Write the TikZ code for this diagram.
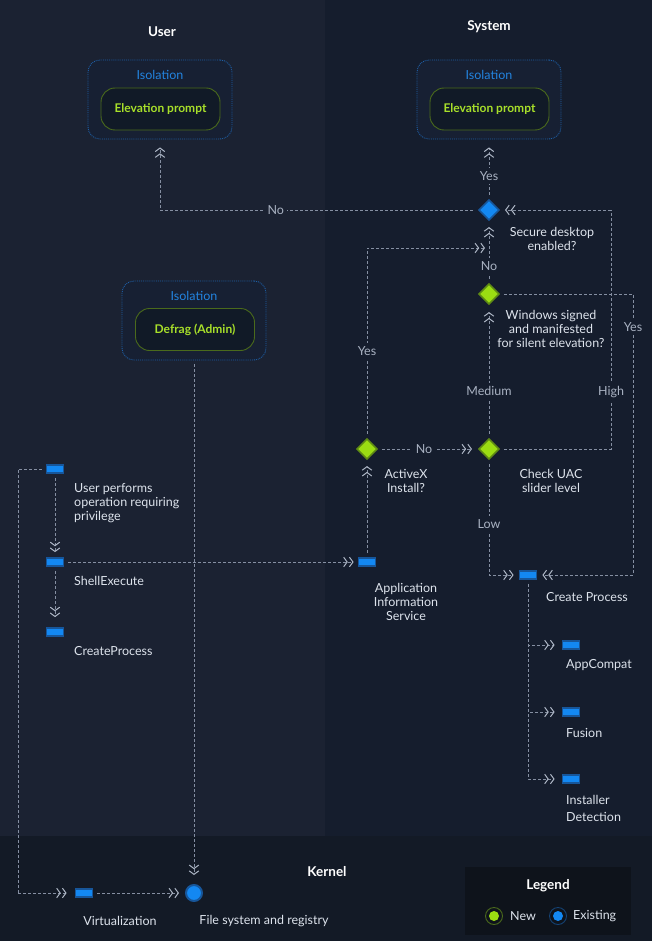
\documentclass[tikz,border=0pt]{standalone}
\usepackage{fontspec}
\setmainfont{Lato}
\usetikzlibrary{arrows.meta,shapes.geometric}

\definecolor{userbg}{HTML}{1B2232}
\definecolor{sysbg}{HTML}{151D2D}
\definecolor{kernbg}{HTML}{131A26}
\definecolor{legbg}{HTML}{0E131B}
\definecolor{isoline}{HTML}{1E5FA6}
\definecolor{isofill}{HTML}{172033}
\definecolor{isotxt}{HTML}{2384E0}
\definecolor{grnline}{HTML}{4A6A1C}
\definecolor{innerfill}{HTML}{111A27}
\definecolor{grntxt}{HTML}{A8E02A}
\definecolor{grnfill}{HTML}{9BDD12}
\definecolor{grnedge}{HTML}{5E8A14}
\definecolor{bluefill}{HTML}{1388F2}
\definecolor{blueedge}{HTML}{17569A}
\definecolor{linec}{HTML}{858FA2}
\definecolor{arrowc}{HTML}{AEB7C6}
\definecolor{lbltxt}{HTML}{A9B2C2}
\definecolor{desctxt}{HTML}{DDE3EC}

\begin{document}
\begin{tikzpicture}[x=1pt,y=-1pt,
  titletxt/.style={text=white, font=\bfseries\fontsize{13.5}{15}\selectfont, inner sep=0pt},
  isobox/.style={draw=isoline, densely dotted, line width=0.9pt, fill=isofill,
    rounded corners=12pt, minimum width=144pt, minimum height=79pt, inner sep=0pt},
  isolbl/.style={text=isotxt, font=\fontsize{12.5}{14}\selectfont, inner sep=0pt},
  innerbox/.style={draw=grnline, line width=0.9pt, fill=innerfill, rounded corners=14pt,
    minimum width=119pt, minimum height=42pt, text=grntxt, inner sep=0pt,
    font=\bfseries\fontsize{12}{14}\selectfont},
  gdia/.style={diamond, fill=grnfill, draw=grnedge, line width=1.6pt,
    minimum width=20.5pt, minimum height=20.5pt, inner sep=0pt},
  bdia/.style={gdia, fill=bluefill, draw=blueedge},
  blk/.style={rectangle, fill=bluefill, draw=blueedge, line width=1.8pt,
    minimum width=17pt, minimum height=8pt, inner sep=0pt},
  desc/.style={text=desctxt, font=\fontsize{12.5}{14}\selectfont, inner sep=0pt},
  lbl/.style={text=lbltxt, font=\fontsize{12.5}{14}\selectfont, fill=sysbg, inner sep=3.5pt},
  conn/.style={draw=linec, line width=0.8pt, dash pattern=on 3pt off 2pt},
  arr/.style={conn, -{Straight Barb[length=3.5pt,width=9.5pt,line width=1pt,color=arrowc,sep=1.2pt]Straight Barb[length=3.5pt,width=9.5pt,line width=1pt,color=arrowc]}},
]

% panels
\fill[userbg] (0,0) rectangle (325,836);
\fill[sysbg] (325,0) rectangle (652,836);
\fill[kernbg] (0,836) rectangle (652,941);
\useasboundingbox (0,0) rectangle (652,941);

% panel titles
\node[titletxt] (tuser) at (162,32) {User};
\node[titletxt] (tsys) at (489,27) {System};
\node[titletxt] (tkern) at (327,872) {Kernel};

% isolation containers
\node[isobox] (iso1) at (160,99.5) {};
\node[isolbl] (iso1t) at (160,75) {Isolation};
\node[innerbox] (ep1) at (160.5,109) {Elevation prompt};

\node[isobox] (iso2) at (489,99.5) {};
\node[isolbl] (iso2t) at (489,75) {Isolation};
\node[innerbox] (ep2) at (489.5,109) {Elevation prompt};

\node[isobox] (iso3) at (194,320.5) {};
\node[isolbl] (iso3t) at (194,296) {Isolation};
\node[innerbox] (dfg) at (195,329.5) {Defrag (Admin)};

% decisions
\node[bdia] (sd) at (489,210) {};
\node[gdia] (ws) at (489,294) {};
\node[gdia] (ax) at (367,449) {};
\node[gdia] (uac) at (489,449) {};

\node[desc, align=center] (sdt) at (552,239) {Secure desktop\\enabled?};
\node[desc, align=center] (wst) at (551,329) {Windows signed\\and manifested\\for silent elevation?};
\node[desc, align=center] (axt) at (406,481) {ActiveX\\Install?};
\node[desc, align=center] (uact) at (551,481) {Check UAC\\slider level};

% process steps
\node[blk] (upo) at (55,469) {};
\node[blk] (se) at (55,562) {};
\node[blk] (cpu) at (55,632) {};
\node[blk] (ais) at (367,562) {};
\node[blk] (cp) at (528,575) {};
\node[blk] (ac) at (571,645) {};
\node[blk] (fu) at (571,712) {};
\node[blk] (ins) at (571,779) {};
\node[blk] (virt) at (84,893) {};
\node[circle, fill=bluefill, draw=blueedge, line width=2pt, minimum size=16pt, inner sep=0pt] (fs) at (194,893) {};

\node[desc, anchor=west, align=left] (upot) at (74,503) {User performs\\operation requiring\\privilege};
\node[desc, anchor=west] (set) at (74,581) {ShellExecute};
\node[desc, anchor=west] (cput) at (74,651) {CreateProcess};
\node[desc, align=center] (aist) at (406,602) {Application\\Information\\Service};
\node[desc, anchor=west] (cpt) at (546,597) {Create Process};
\node[desc, anchor=west] (act) at (566,665) {AppCompat};
\node[desc, anchor=west] (fut) at (566,733) {Fusion};
\node[desc, anchor=west, align=left, font=\fontsize{12.5}{17}\selectfont] (inst) at (566,808.5) {Installer\\Detection};
\node[desc] (virtt) at (120,921) {Virtualization};
\node[desc] (fst) at (264,921) {File system and registry};

% bend points
\coordinate (yesR) at (633,575);
\coordinate (highR) at (611,210);
\coordinate (yj) at (485,248);
\coordinate (lft) at (18,893);

% connectors
\draw[arr, shorten <=5pt, shorten >=8pt] (sd.west) -| node[lbl, fill=userbg, pos=0.318] (lno1) {No} (iso1.south);
\draw[arr, shorten <=4pt, shorten >=8pt] (sd.north) -- node[lbl, pos=0.39] (lyes1) {Yes} (iso2.south);
\draw[arr, shorten <=4pt, shorten >=6pt] (ws.north) -- node[lbl, pos=0.28] (lno2) {No} (sd.south);
\draw[conn, shorten <=4pt] (ws.east) -| node[lbl, pos=0.559] (lyes2) {Yes} (yesR);
\draw[arr, shorten >=5pt] (yesR) -- (cp.east);
\draw[conn, shorten <=4pt] (uac.east) -| node[lbl, pos=0.619] (lhigh) {High} (highR);
\draw[arr, shorten >=5pt] (highR) -- (sd.east);
\draw[arr, shorten <=4pt, shorten >=7pt] (uac.north) -- node[lbl, pos=0.35] (lmed) {Medium} (ws.south);
\draw[arr, shorten <=4pt, shorten >=5pt] (uac.south) |- node[lbl, pos=0.28] (llow) {Low} (cp.west);
\draw[arr, shorten <=4pt, shorten >=6pt] (ax.east) -- node[lbl, pos=0.46] (lno3) {No} (uac.west);
\draw[arr, shorten <=4pt] (ax.north) |- node[lbl, pos=0.23] (lyes3) {Yes} (yj);
\draw[arr, shorten <=4pt, shorten >=6pt] (ais.north) -- (ax.south);
\draw[arr, shorten <=4pt, shorten >=4pt] (se.east) -- (ais.west);
\draw[arr, shorten <=4pt, shorten >=5pt] (upo.south) -- (se.north);
\draw[arr, shorten <=4pt, shorten >=10pt] (se.south) -- (cpu.north);
\draw[conn, shorten <=4pt] (upo.west) -| (lft);
\draw[arr, shorten >=8pt] (lft) -- (virt.west);
\draw[arr, shorten <=4pt, shorten >=6pt] (virt.east) -- (fs.west);
\draw[arr, shorten <=4pt, shorten >=9pt] (iso3.south) -- (fs.north);
\draw[arr, shorten <=4pt, shorten >=7pt] (cp.south) |- (ac.west);
\draw[arr, shorten <=4pt, shorten >=7pt] (cp.south) |- (fu.west);
\draw[arr, shorten <=4pt, shorten >=7pt] (cp.south) |- (ins.west);

% legend
\node[fill=legbg, minimum width=166pt, minimum height=68pt, inner sep=0pt] (leg) at (548,901) {};
\node[titletxt] (legt) at (548,886) {Legend};
\node[circle, draw=grnline, line width=0.9pt, minimum size=17pt, inner sep=0pt] (newring) at (494,916) {};
\node[circle, fill=grnfill, minimum size=10pt, inner sep=0pt] (newdot) at (494,916) {};
\node[desc, anchor=west] (newt) at (510,916) {New};
\node[circle, draw=blueedge!70!legbg, line width=0.9pt, minimum size=17pt, inner sep=0pt] (exring) at (558,916) {};
\node[circle, fill=bluefill, minimum size=10pt, inner sep=0pt] (exdot) at (558,916) {};
\node[desc, anchor=west] (ext) at (573,916) {Existing};
\end{tikzpicture}
\end{document}
